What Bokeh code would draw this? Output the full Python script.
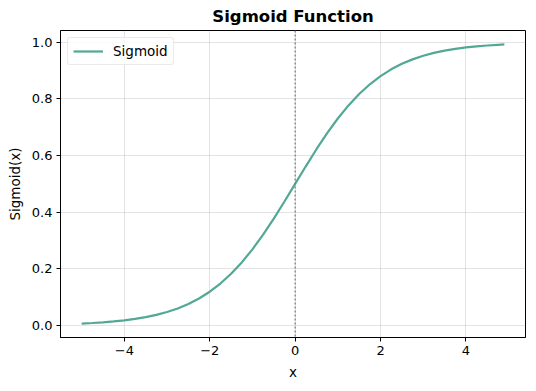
from bokeh.plotting import figure
from bokeh.models import Span, Range1d, Legend, LegendItem
from bokeh.embed import file_html
from bokeh.resources import INLINE

x_vals = [-5.0, -4.75, -4.5, -4.25, -4.0, -3.75, -3.5, -3.25, -3.0, -2.75,
          -2.5, -2.25, -2.0, -1.75, -1.5, -1.25, -1.0, -0.75, -0.5, -0.25,
          0.0, 0.25, 0.5, 0.75, 1.0, 1.25, 1.5, 1.75, 2.0, 2.25,
          2.5, 2.75, 3.0, 3.25, 3.5, 3.75, 4.0, 4.25, 4.5, 4.75, 4.9]
sigmoid_vals = [0.0067, 0.0086, 0.0110, 0.0141, 0.0180, 0.0230, 0.0293, 0.0373, 0.0474, 0.0601,
                0.0759, 0.0953, 0.1192, 0.1480, 0.1824, 0.2227, 0.2689, 0.3208, 0.3775, 0.4378,
                0.5000, 0.5622, 0.6225, 0.6792, 0.7311, 0.7773, 0.8176, 0.8520, 0.8808, 0.9047,
                0.9241, 0.9399, 0.9526, 0.9627, 0.9707, 0.9770, 0.9820, 0.9859, 0.9890, 0.9914, 0.9926]
x_ticks = [-4, -2, 0, 2, 4]
y_ticks = [0.0, 0.2, 0.4, 0.6, 0.8, 1.0]

FONT = "DejaVu Sans"
LINE_COLOR = "#52a894"

p = figure(output_backend="svg", toolbar_location=None,
           frame_width=465, frame_height=307,
           min_border_left=60, min_border_right=2, min_border_top=10, min_border_bottom=10,
           x_range=Range1d(-5.495, 5.395), y_range=Range1d(-0.0426, 1.0419),
           title="Sigmoid Function")

p.title.text_font = FONT
p.title.text_font_size = "16.5px"
p.title.text_font_style = "bold"
p.title.align = "center"
p.title.text_color = "black"
p.title.standoff = 9

r = p.line(x_vals, sigmoid_vals, line_color=LINE_COLOR, line_width=2.2)

vline = Span(location=0, dimension="height", line_color="#7f7f7f",
             line_width=1.3, line_dash="2 2")
p.add_layout(vline)

p.xaxis.ticker = x_ticks
p.yaxis.ticker = y_ticks
p.xaxis.major_label_overrides = {-4: "\u22124", -2: "\u22122", 0: "0", 2: "2", 4: "4"}
p.yaxis.major_label_overrides = {0.0: "0.0", 0.2: "0.2", 0.4: "0.4", 0.6: "0.6", 0.8: "0.8", 1.0: "1.0"}

for ax in (p.xaxis, p.yaxis):
    ax.major_label_text_font = FONT
    ax.major_label_text_font_size = "13px"
    ax.major_label_text_color = "black"
    ax.axis_label_text_font = FONT
    ax.axis_label_text_font_size = "13.5px"
    ax.axis_label_text_font_style = "normal"
    ax.axis_label_text_color = "black"
    ax.major_tick_in = 0
    ax.major_tick_out = 4
    ax.minor_tick_in = 0
    ax.minor_tick_out = 0
    ax.axis_line_color = "black"
    ax.major_tick_line_color = "black"
    ax.major_label_standoff = 4
    ax.axis_label_standoff = 6

p.xaxis.axis_label = "x"
p.yaxis.axis_label = "Sigmoid(x)"

p.grid.grid_line_color = "#b0b0b0"
p.grid.grid_line_alpha = 0.35
p.outline_line_color = "black"
p.outline_line_width = 1
p.background_fill_color = "white"
p.border_fill_color = "white"

legend = Legend(items=[LegendItem(label="Sigmoid", renderers=[r])],
                location="top_left")
legend.label_text_font = FONT
legend.label_text_font_size = "13.5px"
legend.label_text_color = "black"
legend.glyph_width = 30
legend.glyph_height = 14
legend.label_standoff = 10
legend.padding = 5
legend.margin = 7
legend.border_line_color = "#d6d6d6"
legend.border_line_width = 1
legend.border_radius = 3
legend.background_fill_alpha = 0.8
legend.label_height = 14
p.add_layout(legend)

open("out.html", "w").write(file_html(p, INLINE))
